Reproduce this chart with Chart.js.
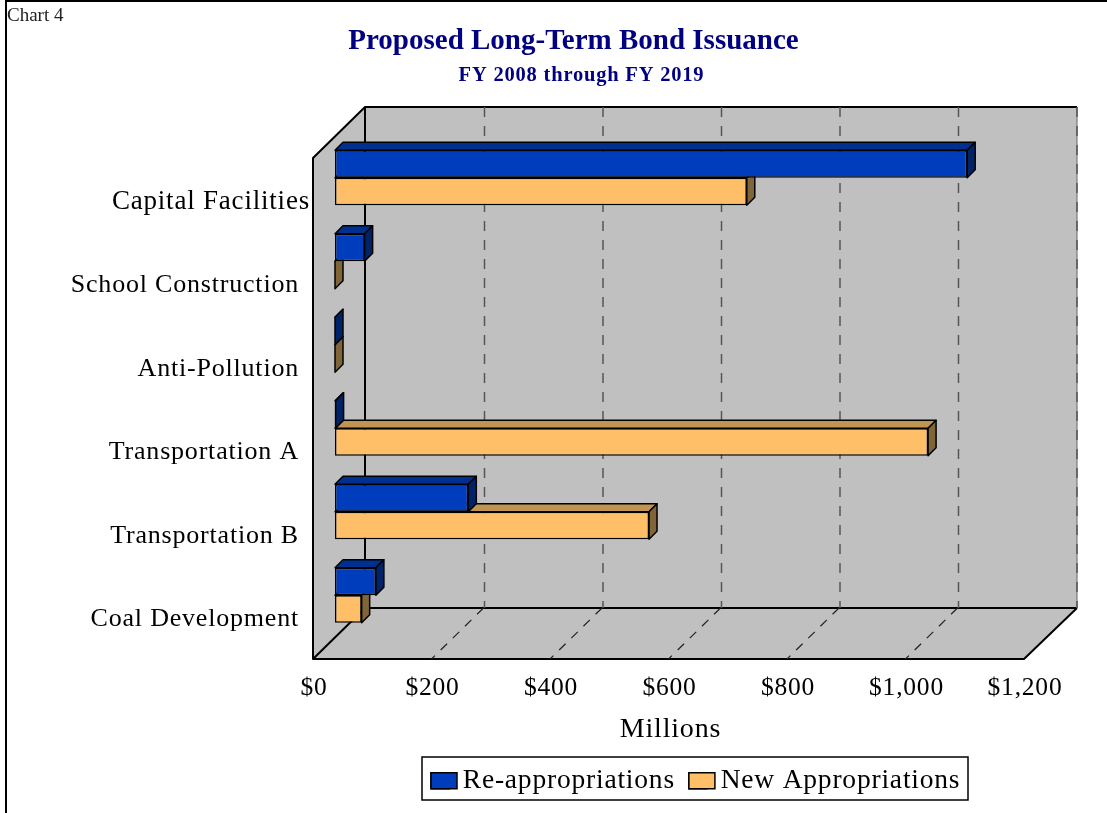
<!DOCTYPE html>
<html>
<head>
    <title>Proposed Long-Term Bond Issuance</title>
    <script src="https://cdn.jsdelivr.net/npm/chart.js"></script>
    <style>
        body { margin: 0; background: #fff; }
        #frame { position: absolute; left: 5px; top: 0; width: 1102px; height: 813px; box-sizing: border-box; border-left: 2px solid #000; border-top: 2px solid #000; }
        #tag { position: absolute; left: 7px; top: 5px; font: 19px "Liberation Serif", serif; color: #222; line-height: 20px; }
        canvas { position: absolute; left: 0; top: 0; }
    </style>
</head>
<body>
    <canvas id="bondChart" width="1107" height="813"></canvas>
    <div id="frame"></div>
    <div id="tag">Chart 4</div>

    <script>
        const categories = ["Capital Facilities", "School Construction", "Anti-Pollution", "Transportation A", "Transportation B", "Coal Development"];
        const reAppropriations = [1067, 50, 0, 1, 225, 69];
        const newAppropriations = [695, 0, 0, 1001, 530, 45];

        const titleText = "Proposed Long-Term Bond Issuance";
        const subtitleText = "FY 2008 through FY 2019";
        const serif = "'Liberation Serif', serif";
        const navy = "#000080";

        // extrusion colours per dataset
        const shades = [
            { top: "#00308F", side: "#002266" },
            { top: "#C09552", side: "#806539" }
        ];
        const barDepth = 8;
        const legendBox = { left: 422, top: 757, right: 968, bottom: 800 };

        const walls3d = {
            id: "walls3d",
            beforeUpdate(chart) { chart.ctx.letterSpacing = "0.8px"; },
            beforeDraw(chart) { chart.ctx.letterSpacing = "0.8px"; },
            afterLayout(chart) {
                // the original centres these on different spans, not the plot
                chart.boxes.forEach(b => {
                    if (b.options && b.options.text === titleText) {
                        b.left = 0;
                        b.right = 1147;
                        if (!b.wrapped) {
                            const draw = b.draw;
                            b.draw = function (area) {
                                chart.ctx.save();
                                chart.ctx.letterSpacing = "0px";
                                draw.call(b, area);
                                chart.ctx.restore();
                            };
                            b.wrapped = true;
                        }
                    }
                    if (b.options && b.options.text === subtitleText) { b.left = 0; b.right = 1163; }
                });
                const legend = chart.legend;
                const h = legend.height;
                legend.left = 417;
                legend.right = 1107;
                legend.top = legendBox.top - 4;
                legend.bottom = legend.top + h;

                // first label sits further right in the original
                const items = chart.scales.y.getLabelItems(chart.chartArea);
                items[0].options.translation[0] += 11;

                const x = chart.scales.x;
                if (!x.shifted) {
                    const drawTitle = x.drawTitle;
                    x.drawTitle = function () {
                        chart.ctx.save();
                        chart.ctx.translate(-20, 0);
                        drawTitle.call(x);
                        chart.ctx.restore();
                    };
                    x.shifted = true;
                }
            },
            beforeDatasetsDraw(chart) {
                const { ctx, chartArea: a, scales } = chart;
                const fl = a.left - 22, bl = a.left + 30, fr = a.right - 22, br = a.right + 31;
                const ft = a.top + 22, bt = a.top - 29, fb = a.bottom + 22, bb = a.bottom - 29;
                ctx.save();
                ctx.fillStyle = "#C0C0C0";
                ctx.strokeStyle = "#000";
                ctx.lineWidth = 2;
                ctx.lineJoin = "round";
                ctx.beginPath();
                ctx.moveTo(fl, fb); ctx.lineTo(fl, ft); ctx.lineTo(bl, bt); ctx.lineTo(br, bt);
                ctx.lineTo(br, bb); ctx.lineTo(fr, fb); ctx.closePath();
                ctx.fill();
                ctx.beginPath();
                ctx.moveTo(br, bb); ctx.lineTo(fr, fb); ctx.lineTo(fl, fb); ctx.lineTo(fl, ft);
                ctx.lineTo(bl, bt); ctx.lineTo(br, bt);
                ctx.moveTo(bl, bt); ctx.lineTo(bl, bb); ctx.lineTo(br, bb);
                ctx.moveTo(bl, bb); ctx.lineTo(fl, fb);
                ctx.stroke();

                // right edge of the back wall is a thin grey line in the original
                ctx.strokeStyle = "#666";
                ctx.lineWidth = 1;
                ctx.beginPath();
                ctx.moveTo(br, bt);
                ctx.lineTo(br, bb);
                ctx.stroke();

                // gridlines up the back wall and across the floor
                scales.x.ticks.forEach(t => {
                    if (t.value === 0) return;
                    const px = scales.x.getPixelForValue(t.value);
                    ctx.strokeStyle = "#555";
                    ctx.lineWidth = 1.5;
                    ctx.setLineDash([10, 9]);
                    ctx.beginPath();
                    ctx.moveTo(px + 31, bt);
                    ctx.lineTo(px + 31, bb);
                    ctx.stroke();
                    if (t.value === scales.x.max) return;
                    ctx.strokeStyle = "#222";
                    ctx.lineWidth = 1.2;
                    ctx.setLineDash([9, 8]);
                    ctx.beginPath();
                    ctx.moveTo(px + 30, bb);
                    ctx.lineTo(px - 22, fb);
                    ctx.stroke();
                });
                ctx.restore();
            },
            beforeDatasetDraw(chart, args) {
                const { ctx } = chart;
                const shade = shades[args.index];
                ctx.save();
                ctx.strokeStyle = "#000";
                ctx.lineWidth = 1.5;
                ctx.lineJoin = "round";
                args.meta.data.forEach(el => {
                    const p = el.getProps(["x", "y", "base", "height"], true);
                    const top = p.y - p.height / 2, bottom = p.y + p.height / 2;
                    ctx.fillStyle = shade.top;
                    ctx.beginPath();
                    ctx.moveTo(p.base, top); ctx.lineTo(p.x, top);
                    ctx.lineTo(p.x + barDepth, top - barDepth); ctx.lineTo(p.base + barDepth, top - barDepth);
                    ctx.closePath();
                    ctx.fill();
                    ctx.stroke();
                    ctx.fillStyle = shade.side;
                    ctx.beginPath();
                    ctx.moveTo(p.x, top); ctx.lineTo(p.x + barDepth, top - barDepth);
                    ctx.lineTo(p.x + barDepth, bottom - barDepth); ctx.lineTo(p.x, bottom);
                    ctx.closePath();
                    ctx.fill();
                    ctx.stroke();
                });
                ctx.restore();
            },
            afterDraw(chart) {
                const { ctx, legend } = chart;
                ctx.save();
                ctx.strokeStyle = "#000";
                ctx.lineWidth = 1.5;
                ctx.strokeRect(legendBox.left, legendBox.top, legendBox.right - legendBox.left, legendBox.bottom - legendBox.top);
                // wider swatches than the legend's own text gap allows
                legend.legendHitBoxes.forEach((hit, i) => {
                    const y = hit.top + hit.height / 2 - 8;
                    ctx.fillStyle = chart.data.datasets[i].backgroundColor;
                    ctx.fillRect(hit.left, y, 26, 16);
                    ctx.strokeRect(hit.left, y, 26, 16);
                });
                ctx.restore();
            }
        };

        new Chart(document.getElementById("bondChart").getContext("2d"), {
            type: "bar",
            plugins: [walls3d],
            data: {
                labels: categories,
                datasets: [
                    { label: "Re-appropriations", data: reAppropriations, backgroundColor: "#003DBD", borderColor: "#000", borderWidth: 1.5, borderSkipped: false, clip: false },
                    { label: "New Appropriations", data: newAppropriations, backgroundColor: "#FFBF69", borderColor: "#000", borderWidth: 1.5, borderSkipped: false, clip: false }
                ]
            },
            options: {
                indexAxis: "y",
                responsive: false,
                animation: false,
                layout: { padding: { left: 0, right: 61, top: 0, bottom: 0 } },
                categoryPercentage: 0.66,
                barPercentage: 1,
                scales: {
                    x: {
                        min: 0,
                        max: 1200,
                        grid: { display: false },
                        border: { display: false },
                        afterFit(scale) {
                            scale.height = 813 - 637 - scale.chart.legend.height;
                            scale.paddingLeft = 0;
                            scale.paddingRight = 0;
                        },
                        ticks: {
                            stepSize: 200,
                            autoSkip: false,
                            maxRotation: 0,
                            padding: 28,
                            labelOffset: -21,
                            color: "#000",
                            font: { family: serif, size: 25.5 },
                            callback: v => "$" + v.toLocaleString("en-US")
                        },
                        title: {
                            display: true,
                            text: "Millions",
                            color: "#000",
                            font: { family: serif, size: 28 },
                            padding: { top: 0, bottom: 15 }
                        }
                    },
                    y: {
                        grid: { display: false },
                        border: { display: false },
                        afterFit(scale) {
                            scale.width = 335;
                            scale.paddingTop = 0;
                            scale.paddingBottom = 0;
                        },
                        ticks: {
                            autoSkip: false,
                            padding: 28,
                            labelOffset: 24,
                            color: "#000",
                            font: ctx => ({ family: serif, size: ctx.index === 0 ? 27 : 26 })
                        }
                    }
                },
                plugins: {
                    title: {
                        display: true,
                        text: titleText,
                        color: navy,
                        font: { family: serif, size: 29, weight: "bold" },
                        padding: { top: 24, bottom: 0 }
                    },
                    subtitle: {
                        display: true,
                        text: subtitleText,
                        color: navy,
                        font: { family: serif, size: 20.5, weight: "bold" },
                        padding: { top: 5, bottom: 47.6 }
                    },
                    legend: {
                        position: "bottom",
                        align: "start",
                        labels: {
                            color: "#000",
                            font: { family: serif, size: 27.5 },
                            boxWidth: 18,
                            boxHeight: 16,
                            padding: 14
                        }
                    },
                    tooltip: { enabled: false }
                }
            }
        });
    </script>
</body>
</html>
